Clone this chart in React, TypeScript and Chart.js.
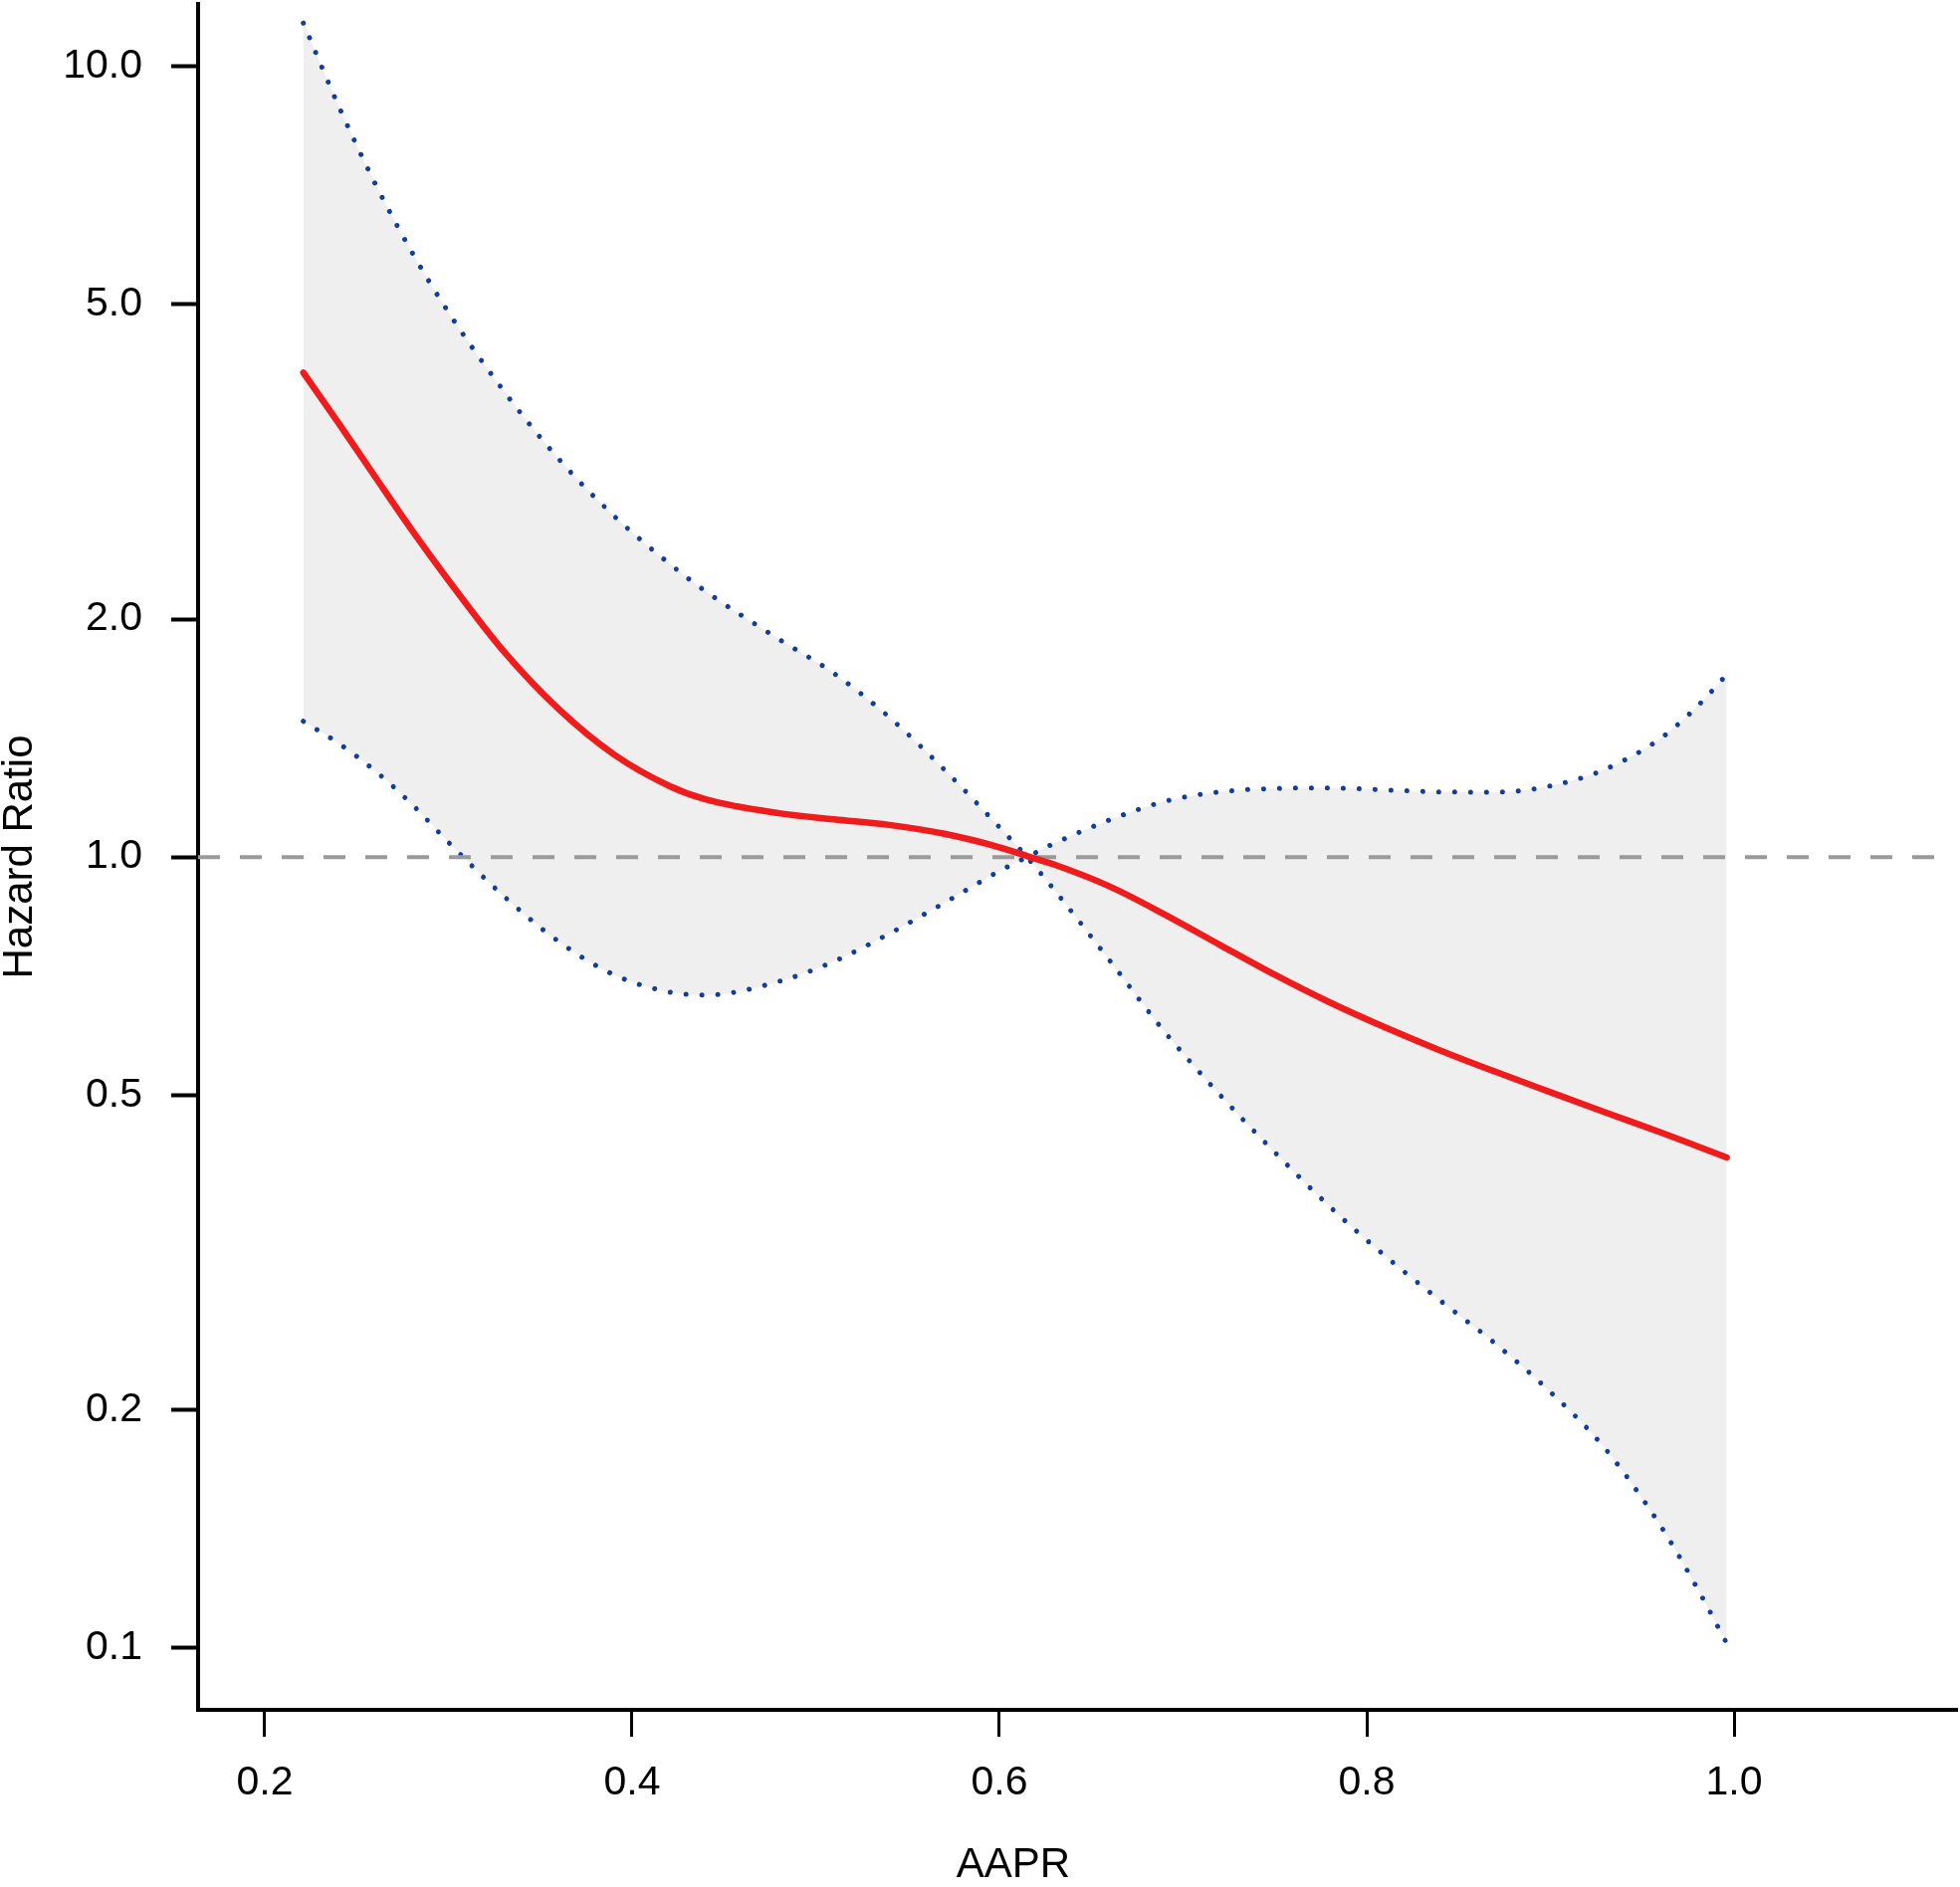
import React, { useEffect, useRef } from "react";
import { Chart, registerables } from "chart.js";

Chart.register(...registerables);

// AAPR values at which the curves were read
const aaprValues = [0.221, 0.24, 0.26, 0.28, 0.30, 0.33, 0.36, 0.39, 0.42, 0.44, 0.48, 0.51, 0.54, 0.57, 0.60, 0.615, 0.63, 0.66, 0.69, 0.72, 0.75, 0.78, 0.81, 0.84, 0.87, 0.90, 0.93, 0.96, 0.98, 0.996];
// Estimated hazard ratio (red line)
const hazardRatio = [4.10, 3.545, 3.03, 2.594, 2.240, 1.822, 1.539, 1.349, 1.231, 1.183, 1.136, 1.116, 1.098, 1.070, 1.029, 1.003, 0.978, 0.918, 0.846, 0.7745, 0.7096, 0.6546, 0.6088, 0.5694, 0.5352, 0.5042, 0.4753, 0.4484, 0.4307, 0.4169];
// Confidence bound starting high (upper on the left, lower on the right)
const ciBoundA = [11.35, 8.94, 7.12, 5.83, 4.89, 3.89, 3.19, 2.703, 2.354, 2.169, 1.886, 1.707, 1.503, 1.290, 1.091, 1.0, 0.908, 0.740, 0.601, 0.5005, 0.423, 0.361, 0.3129, 0.2748, 0.2424, 0.2105, 0.1783, 0.1425, 0.1188, 0.1012];
// Confidence bound starting low (lower on the left, upper on the right)
const ciBoundB = [1.485, 1.394, 1.286, 1.167, 1.044, 0.893, 0.782, 0.710, 0.675, 0.669, 0.696, 0.738, 0.800, 0.875, 0.960, 1.0, 1.041, 1.114, 1.176, 1.209, 1.221, 1.223, 1.216, 1.209, 1.208, 1.230, 1.292, 1.413, 1.551, 1.701];

const xTickValues = [0.2, 0.4, 0.6, 0.8, 1.0];
const yTickValues = [0.1, 0.2, 0.5, 1.0, 2.0, 5.0, 10.0];
const referenceValue = 1.0;

const X_MIN = 0.1637;
const X_MAX = 1.1214;
const REF_END = 1.1095;
const Y_MIN = 0.0834;
const Y_MAX = 12.0;

const FONT = "'Liberation Sans', Arial, Helvetica, sans-serif";

const titlePlugin = {
  id: "axisTitlesCustom",
  afterDraw(chart: any) {
    const ctx = chart.ctx;
    ctx.save();
    ctx.fillStyle = "#000";
    ctx.font = `42px ${FONT}`;
    ctx.textAlign = "center";
    ctx.textBaseline = "middle";
    ctx.fillText("AAPR", 1018, 1874);
    ctx.translate(20, 861);
    ctx.rotate(-Math.PI / 2);
    ctx.fillText("Hazard Ratio", 0, 0);
    ctx.restore();
  },
};

export default function App() {
  const canvasRef = useRef<HTMLCanvasElement | null>(null);

  useEffect(() => {
    if (!canvasRef.current) return;
    const pts = (ys: number[]) => aaprValues.map((x, i) => ({ x, y: ys[i] }));
    const chart = new Chart(canvasRef.current, {
      type: "line",
      data: {
        datasets: [
          {
            label: "HR",
            data: pts(hazardRatio),
            borderColor: "#ee1c1c",
            borderWidth: 6.5,
            pointRadius: 0,
            fill: false,
            cubicInterpolationMode: "monotone",
            borderCapStyle: "round",
            order: 0,
          },
          {
            label: "ref",
            data: [
              { x: X_MIN, y: referenceValue },
              { x: REF_END, y: referenceValue },
            ],
            borderColor: "#9a9a9a",
            borderWidth: 4,
            borderDash: [22, 20],
            pointRadius: 0,
            fill: false,
            order: 1,
          },
          {
            label: "CI B",
            data: pts(ciBoundB),
            borderColor: "#123f95",
            borderWidth: 5,
            borderDash: [0.001, 16],
            borderCapStyle: "round",
            pointRadius: 0,
            fill: false,
            cubicInterpolationMode: "monotone",
            order: 2,
          },
          {
            label: "CI A",
            data: pts(ciBoundA),
            borderColor: "#123f95",
            borderWidth: 5,
            borderDash: [0.001, 16],
            borderCapStyle: "round",
            pointRadius: 0,
            backgroundColor: "#efefef",
            fill: { target: 2, above: "#efefef", below: "#efefef" },
            cubicInterpolationMode: "monotone",
            order: 3,
          },
        ],
      },
      options: {
        animation: false,
        responsive: false,
        devicePixelRatio: 1,
        layout: { padding: { top: 4, right: 3, left: 0, bottom: 0 } },
        plugins: {
          legend: { display: false },
          tooltip: { enabled: false },
          title: { display: false },
        },
        scales: {
          x: {
            type: "linear",
            min: X_MIN,
            max: X_MAX,
            afterBuildTicks: (s: any) => {
              s.ticks = xTickValues.map((v) => ({ value: v }));
            },
            afterFit: (s: any) => {
              s.height = 178;
              s.paddingLeft = 0;
              s.paddingRight = 0;
            },
            border: { display: true, color: "#000", width: 4 },
            grid: {
              display: true,
              drawOnChartArea: false,
              drawTicks: true,
              tickLength: 27,
              tickWidth: 3,
              color: "#000",
            },
            ticks: {
              color: "#000",
              padding: 22,
              maxRotation: 0,
              font: { family: FONT, size: 41 },
              callback: (v: any) => Number(v).toFixed(1),
            },
          },
          y: {
            type: "logarithmic",
            min: Y_MIN,
            max: Y_MAX,
            afterBuildTicks: (s: any) => {
              s.ticks = yTickValues.map((v) => ({ value: v }));
            },
            afterFit: (s: any) => {
              s.width = 199;
              s.paddingTop = 0;
              s.paddingBottom = 0;
            },
            border: { display: true, color: "#000", width: 4 },
            grid: {
              display: true,
              drawOnChartArea: false,
              drawTicks: true,
              tickLength: 27,
              tickWidth: 4,
              color: "#000",
            },
            ticks: {
              color: "#000",
              padding: 29,
              font: { family: FONT, size: 41 },
              callback: (v: any) => Number(v).toFixed(1),
            },
          },
        },
      },
      plugins: [titlePlugin],
    } as any);
    return () => chart.destroy();
  }, []);

  return (
    <div style={{ position: "absolute", left: 0, top: 0, width: 1969, height: 1896, background: "#fff" }}>
      <canvas ref={canvasRef} width={1969} height={1896} style={{ display: "block" }} />
    </div>
  );
}
